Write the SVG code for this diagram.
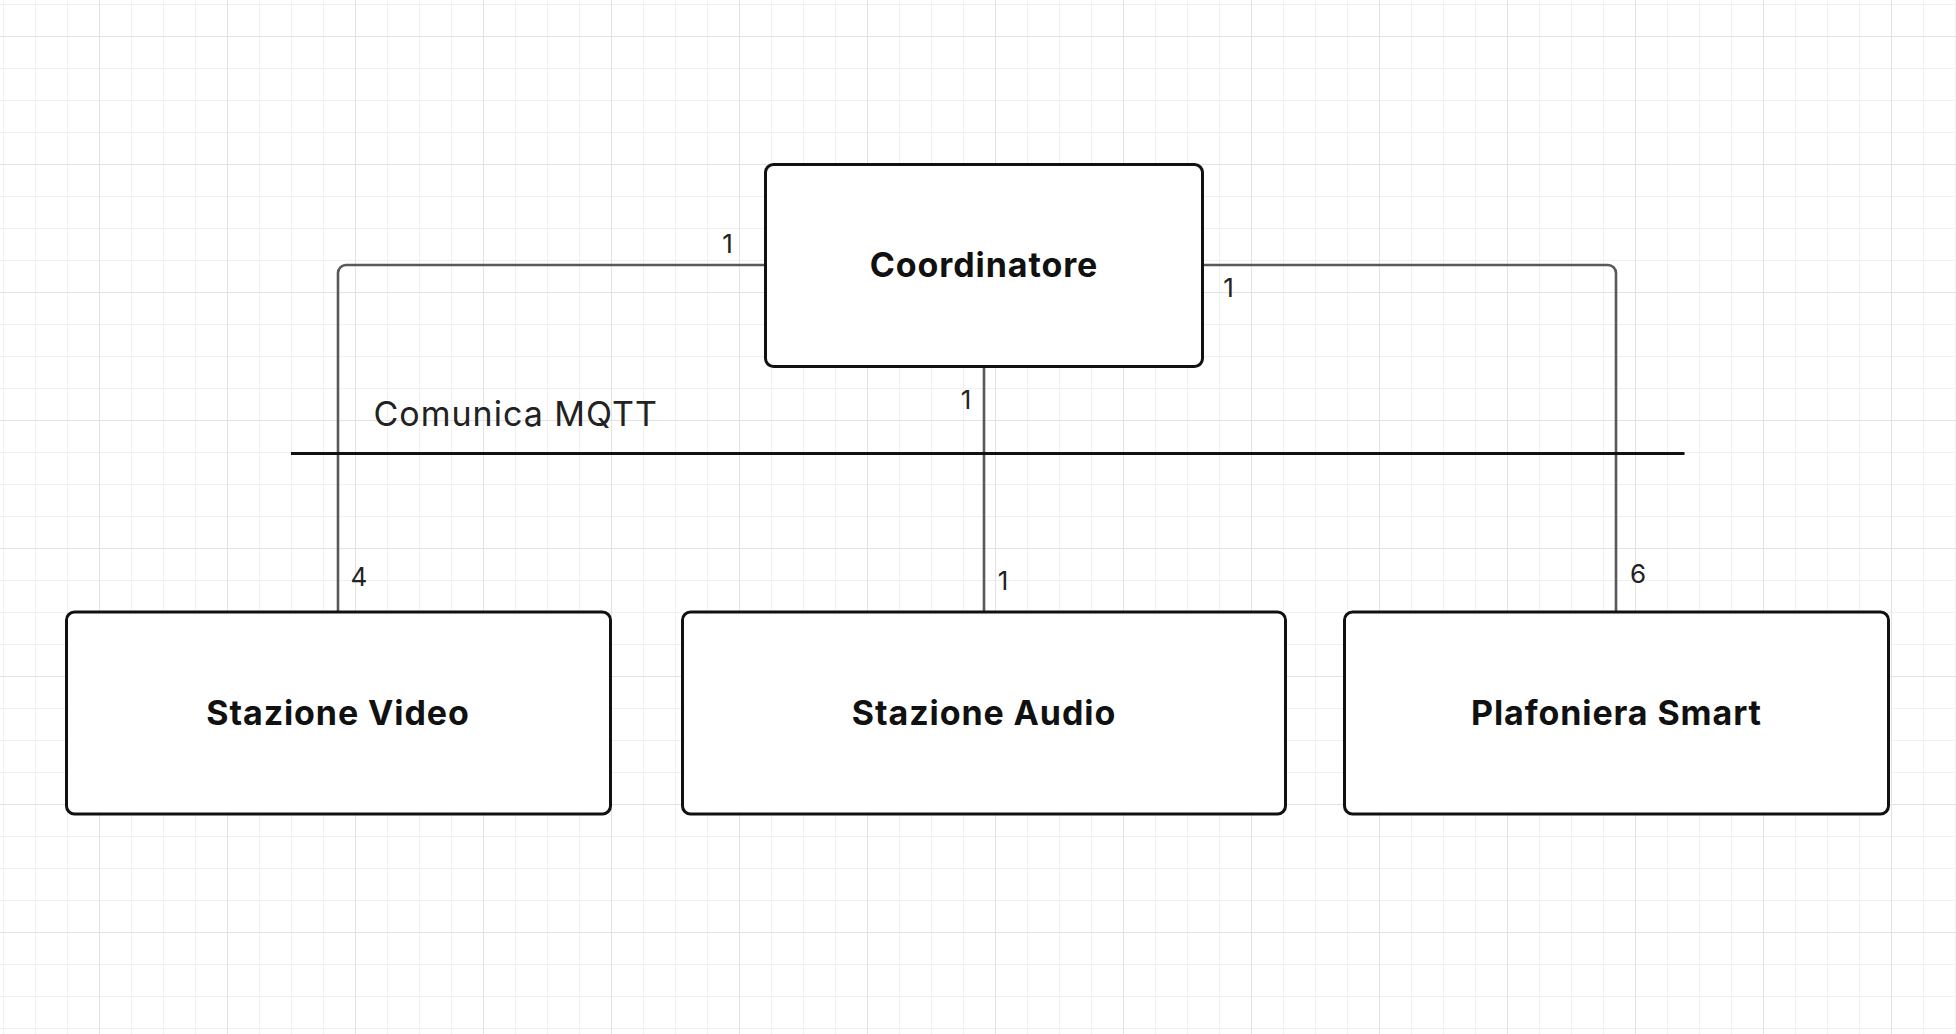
<svg xmlns="http://www.w3.org/2000/svg" width="1956" height="1034" viewBox="0 0 1956 1034">
  <style>
    .node rect { fill: #ffffff; stroke: #111111; stroke-width: 3; }
    .node text { font-family: Inter, "Liberation Sans", sans-serif; font-weight: 700; font-size: 34px; letter-spacing: 0.9px; fill: #111111; text-anchor: middle; }
    .conn path { fill: none; stroke: #595959; stroke-width: 2.6; }
    .mult { font-family: Inter, "Liberation Sans", sans-serif; font-size: 26px; fill: #222222; text-anchor: middle; }
    .lbl { font-family: Inter, "Liberation Sans", sans-serif; font-size: 34px; letter-spacing: 1px; fill: #222222; }
  </style>
  <defs>
    <pattern id="minor" patternUnits="userSpaceOnUse" x="3" y="4" width="32" height="32">
      <rect x="0" y="0" width="1" height="32" fill="#f0f0f0"/>
      <rect x="0" y="0" width="32" height="1" fill="#f0f0f0"/>
    </pattern>
    <pattern id="major" patternUnits="userSpaceOnUse" x="99" y="36" width="128" height="128">
      <rect x="0" y="0" width="1" height="128" fill="#e2e2e2"/>
      <rect x="0" y="0" width="128" height="1" fill="#e2e2e2"/>
    </pattern>
  </defs>
  <rect x="0" y="0" width="1956" height="1034" fill="#ffffff"/>
  <rect x="0" y="0" width="1956" height="1034" fill="url(#minor)"/>
  <rect x="0" y="0" width="1956" height="1034" fill="url(#major)"/>

  <g id="connectors" class="conn">
    <path id="c-video" d="M765,265 H346 A8,8 0 0 0 338,273 V612"/>
    <path id="c-audio" d="M984,366 V612"/>
    <path id="c-plafoniera" d="M1203,265 H1608 A8,8 0 0 1 1616,273 V612"/>
  </g>

  <g id="mqtt">
    <line x1="291" y1="453.5" x2="1684.5" y2="453.5" stroke="#111111" stroke-width="3"/>
    <text class="lbl" x="373.5" y="426">Comunica MQTT</text>
  </g>

  <g id="multiplicities">
    <text class="mult" x="727.5" y="253">1</text>
    <text class="mult" x="1228.5" y="297">1</text>
    <text class="mult" x="966" y="409">1</text>
    <text class="mult" x="359" y="586">4</text>
    <text class="mult" x="1003" y="590">1</text>
    <text class="mult" x="1638" y="583">6</text>
  </g>

  <g id="coordinatore" class="node">
    <rect x="765.5" y="164.5" width="437" height="202" rx="8"/>
    <text x="984" y="277">Coordinatore</text>
  </g>
  <g id="stazione-video" class="node">
    <rect x="66.5" y="612" width="544" height="202" rx="8"/>
    <text x="338" y="725">Stazione Video</text>
  </g>
  <g id="stazione-audio" class="node">
    <rect x="682.5" y="612" width="603" height="202" rx="8"/>
    <text x="984" y="725">Stazione Audio</text>
  </g>
  <g id="plafoniera-smart" class="node">
    <rect x="1344.5" y="612" width="544" height="202" rx="8"/>
    <text x="1616.5" y="725">Plafoniera Smart</text>
  </g>
</svg>
